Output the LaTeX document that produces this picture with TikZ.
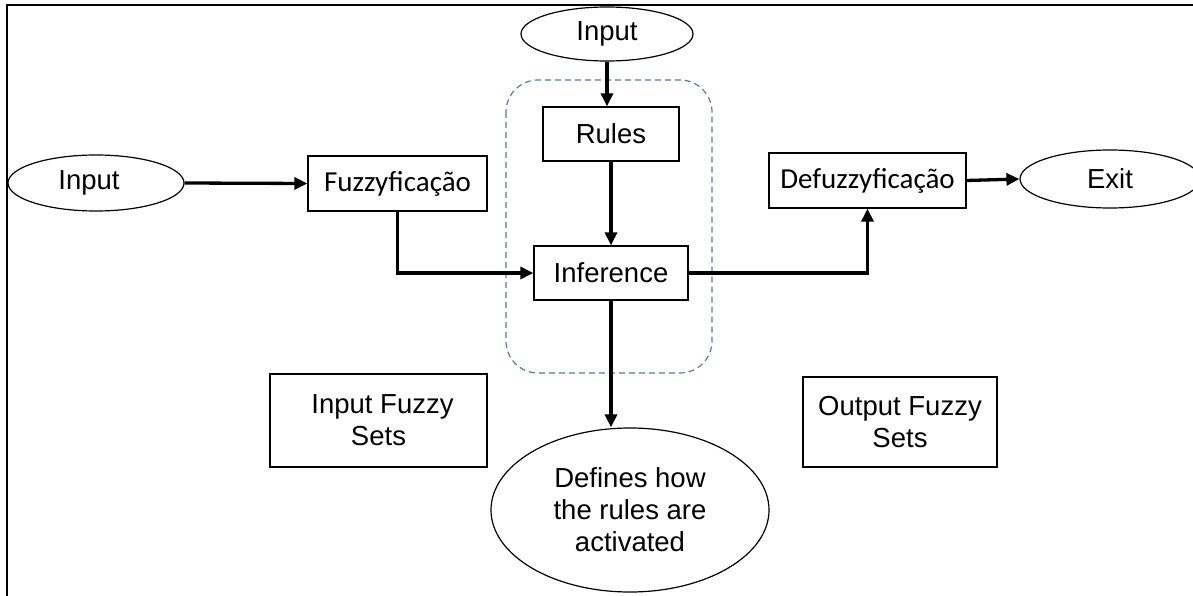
\documentclass[tikz,border=0pt]{standalone}
\usepackage{fontspec}
\setmainfont{Liberation Sans}
\newfontfamily\calfont{Carlito}
\usetikzlibrary{shapes.geometric,arrows.meta}
\definecolor{dashblue}{RGB}{84,122,172}
\tikzset{
  boxnode/.style={draw=black,line width=1.3pt,rectangle,inner sep=0pt,align=center,font=\fontsize{27.5}{32}\selectfont},
  ellnode/.style={draw=black,line width=1.2pt,ellipse,inner sep=0pt,align=center,font=\fontsize{27.5}{32}\selectfont},
  flow/.style={line width=3.3pt,-{Triangle[length=13pt,width=12pt]}},
  frameline/.style={line width=1.5pt,black}
}
\begin{document}
\begin{tikzpicture}[x=1pt,y=-1pt]
\useasboundingbox (0,0) rectangle (1193,596);
\fill[white] (0,0) rectangle (1193,596);
% frame
\draw[frameline] (7,596) -- (7,5) -- (1193,5);
% dashed group
\draw[dashblue,line width=1.2pt,dash pattern=on 6pt off 4pt,rounded corners=32pt] (506,80) rectangle (712,373);
% nodes
\node[ellnode,minimum width=172pt,minimum height=54pt] (intop) at (607,34) {Input};
\node[ellnode,minimum width=176pt,minimum height=56pt] (inleft) at (96,183) {Input\hspace{14pt}};
\node[boxnode,minimum width=179pt,minimum height=55pt,font=\calfont\fontsize{29}{32}\selectfont] (fuzzy) at (397.5,183.5) {Fuzzyficação};
\node[boxnode,minimum width=136pt,minimum height=54pt] (rules) at (611,134) {Rules};
\node[boxnode,minimum width=154pt,minimum height=54pt] (inf) at (611,273) {Inference};
\node[boxnode,minimum width=197pt,minimum height=55pt,font=\calfont\fontsize{29}{32}\selectfont] (defuzzy) at (867.5,180.5) {Defuzzyficação};
\node[ellnode,minimum width=180pt,minimum height=58pt] (exit) at (1110,179) {Exit};
\node[boxnode,minimum width=217pt,minimum height=93pt] (ifs) at (378.5,420.5) {\hspace{8pt}Input Fuzzy\\Sets};
\node[boxnode,minimum width=194pt,minimum height=90pt] (ofs) at (900,422) {Output Fuzzy\\Sets};
\node[ellnode,minimum width=278pt,minimum height=164pt] (def) at (630,510) {Defines how\\the rules are\\activated};
% connectors
\draw[flow] (intop.south) -- (intop.south |- rules.north);
\draw[flow] (rules.south) -- (inf.north);
\draw[flow] (inleft.east) -- (fuzzy.west);
\draw[flow] (fuzzy.south) -- (fuzzy.south |- inf.west) -- (inf.west);
\draw[flow] (inf.east) -| (defuzzy.south);
\draw[flow] (defuzzy.east) -- (exit.west);
\draw[flow] (inf.south) -- (def.north -| inf.south);
\end{tikzpicture}
\end{document}
